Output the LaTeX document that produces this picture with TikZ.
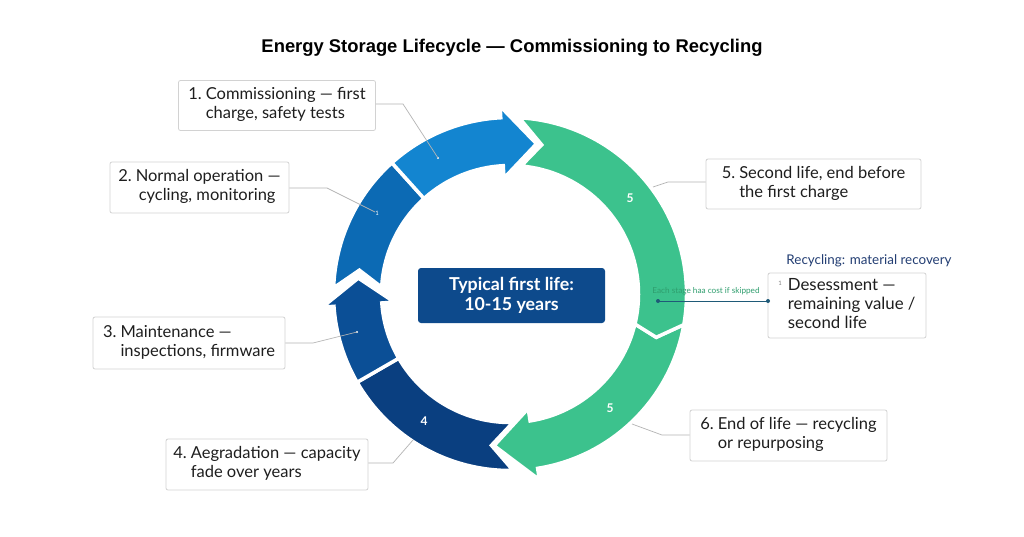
\documentclass[tikz,border=0pt]{standalone}
\usepackage{fontspec}
\setmainfont{Lato}
\newfontfamily\titlefont{Liberation Sans}
\usetikzlibrary{calc}

\definecolor{segA}{HTML}{1385D0}
\definecolor{segB}{HTML}{0C6AB4}
\definecolor{segC}{HTML}{0B4F96}
\definecolor{segD}{HTML}{0A3F80}
\definecolor{grn}{HTML}{3CC28D}
\definecolor{boxnavy}{HTML}{0D4A8C}
\definecolor{linegray}{HTML}{B4B4B4}
\definecolor{boxline}{HTML}{D2D2D2}
\definecolor{txt}{HTML}{1E1E1E}
\definecolor{navytxt}{HTML}{233E73}
\definecolor{tealtxt}{HTML}{2F9E6E}
\definecolor{teal}{HTML}{1F5A78}

\def\Ro{176.5pt}
\def\Ri{128.5pt}
\def\Rm{152.5pt}
\def\Rho{188pt}
\def\Rhi{116pt}

\begin{document}
\begin{tikzpicture}[x=1pt,y=-1pt,
  lbl/.style={draw=boxline, fill=white, line width=0.8pt, rounded corners=2pt,
    text=txt, font=\fontsize{16.5}{19}\selectfont, inner sep=0pt},
  conn/.style={draw=linegray, line width=0.7pt},
  seg/.style={draw=white, line width=3.5pt, line join=miter},
  ringnum/.style={text=white, font=\bfseries\fontsize{12}{13}\selectfont, inner sep=0pt},
]
\useasboundingbox (0,0) rectangle (1024,536);
\fill[white] (0,0) rectangle (1024,536);

% title
\node[font=\titlefont\bfseries\fontsize{18.4}{21}\selectfont, text=black] (title) at (512,48)
  {Energy Storage Lifecycle — Commissioning to Recycling};

% ring
\begin{scope}[shift={(510,294)}]
  % navy (4)
  \path[seg, fill=segD] (-89:\Ro) arc[start angle=-89, end angle=-150, radius=\Ro]
    -- (-150:\Ri) arc[start angle=-150, end angle=-88.7, radius=\Ri] -- (-97:\Rm) -- cycle;
  % lower green
  \path[seg, fill=grn] (-16.5:\Rm) -- (-10:\Ro) arc[start angle=-10, end angle=-81, radius=\Ro]
    -- (-81:\Rho) -- (-96:\Rm) -- (-81:\Rhi) -- (-81:\Ri)
    arc[start angle=-81, end angle=-13.5, radius=\Ri] -- cycle;
  % upper green
  \path[seg, fill=grn] (78:\Rm) -- (87:\Ro) arc[start angle=87, end angle=-10, radius=\Ro]
    -- (-16.5:\Rm) -- (-13.5:\Ri) arc[start angle=-13.5, end angle=85, radius=\Ri] -- cycle;
  % segment 2
  \path[seg, fill=segB] (171:\Rm) -- (178:\Ro) arc[start angle=178, end angle=132, radius=\Ro]
    -- (132:\Ri) arc[start angle=132, end angle=177, radius=\Ri] -- cycle;
  % segment 3
  \path[seg, fill=segC] (210:\Ro) arc[start angle=210, end angle=184, radius=\Ro]
    -- (184:\Rho) -- (174:\Rm) -- (184:\Rhi) -- (184:\Ri)
    arc[start angle=184, end angle=210, radius=\Ri] -- cycle;
  % segment 1
  \path[seg, fill=segA] (132:\Ro) arc[start angle=132, end angle=93, radius=\Ro]
    -- (93:\Rho) -- (80:\Rm) -- (93:\Rhi) -- (93:\Ri)
    arc[start angle=93, end angle=132, radius=\Ri] -- cycle;
\end{scope}

% ring markers
\node[ringnum] (n5a) at (630,198) {5};
\node[ringnum] (n5b) at (610,408) {5};
\node[ringnum] (n4) at (424,421) {4};
\node[text=white, font=\fontsize{6}{7}\selectfont, inner sep=0pt] (n1) at (377,213) {1};
\coordinate (d1) at (438,158);
\coordinate (d3) at (357,332);
\fill[white] (d1) circle (1.2pt);
\fill[white] (d3) circle (1.2pt);
\coordinate (d4) at (413,440);
\coordinate (d5) at (653,187);
\coordinate (d6) at (632,424);

% centre box
\node[fill=boxnavy, rounded corners=3pt, minimum width=187pt, minimum height=55pt,
  text=white, font=\bfseries\fontsize{17.8}{20}\selectfont, align=center, inner sep=0pt]
  (life) at (511.5,295.5) {Typical first life:\\10-15 years};

% labels
\node[lbl, minimum width=197pt, minimum height=50pt] (b1) at (277,105.5)
  {\begin{tabular}{@{}l@{\hspace{4pt}}l@{}}1.&Commissioning — first\\&charge, safety tests\end{tabular}};
\node[lbl, minimum width=179pt, minimum height=51pt] (b2) at (199.5,187.5)
  {\begin{tabular}{@{}l@{\hspace{4pt}}l@{}}2.&Normal operation —\\&\hspace{3pt}cycling, monitoring\end{tabular}};
\node[lbl, minimum width=192pt, minimum height=52pt] (b3) at (189,343)
  {\begin{tabular}{@{}l@{\hspace{4pt}}l@{}}3.&Maintenance —\\&inspections, firmware\end{tabular}};
\node[lbl, minimum width=202pt, minimum height=51pt] (b4) at (267,464.5)
  {\begin{tabular}{@{}l@{\hspace{4pt}}l@{}}4.&Aegradation — capacity\\&fade over years\end{tabular}};
\node[lbl, minimum width=215pt, minimum height=50pt] (b5) at (813.5,184)
  {\begin{tabular}{@{}l@{\hspace{4pt}}l@{}}5.&Second life, end before\\&the first charge\end{tabular}};
\node[lbl, minimum width=197pt, minimum height=51pt] (b6) at (788.5,435.5)
  {\begin{tabular}{@{}l@{\hspace{4pt}}l@{}}6.&End of life — recycling\\&or repurposing\end{tabular}};
\node[lbl, minimum width=158pt, minimum height=65pt, font=\fontsize{16.8}{19}\selectfont] (b7) at (847,305.5)
  {\begin{tabular}{@{}l@{\hspace{6pt}}l@{}}\raisebox{5pt}{\fontsize{6}{7}\selectfont\color{gray}1}&Desessment —\\&remaining value /\\&second life\end{tabular}};

\node[text=navytxt, font=\fontsize{13.4}{15}\selectfont, inner sep=0pt] (rec) at (869,261)
  {Recycling: material recovery};
\node[text=tealtxt, font=\fontsize{8.2}{9}\selectfont, inner sep=0pt] (skip) at (706,291)
  {Each stage haa cost if skipped};

% connectors
\coordinate (k1) at (403,104);
\coordinate (k2) at (327,188);
\coordinate (k3) at (313,343);
\coordinate (k4) at (393,463);
\coordinate (k5) at (668,182);
\coordinate (k6) at (662,435);
\draw[conn] (b1.east |- k1) -- (k1) -- (d1);
\draw[conn] (b2.east |- k2) -- (k2) -- (n1);
\draw[conn] (b3.east |- k3) -- (k3) -- (d3);
\draw[conn] (b4.east |- k4) -- (k4) -- (d4);
\draw[conn] (b5.west |- k5) -- (k5) -- (d5);
\draw[conn] (b6.west |- k6) -- (k6) -- (d6);

\coordinate (e1) at (658,301);
\coordinate (e2) at (768,301);
\draw[teal, line width=0.8pt] (e1) -- (e2);
\fill[teal] (e1) circle (2pt);
\fill[teal] (e2) circle (2pt);
\end{tikzpicture}
\end{document}
